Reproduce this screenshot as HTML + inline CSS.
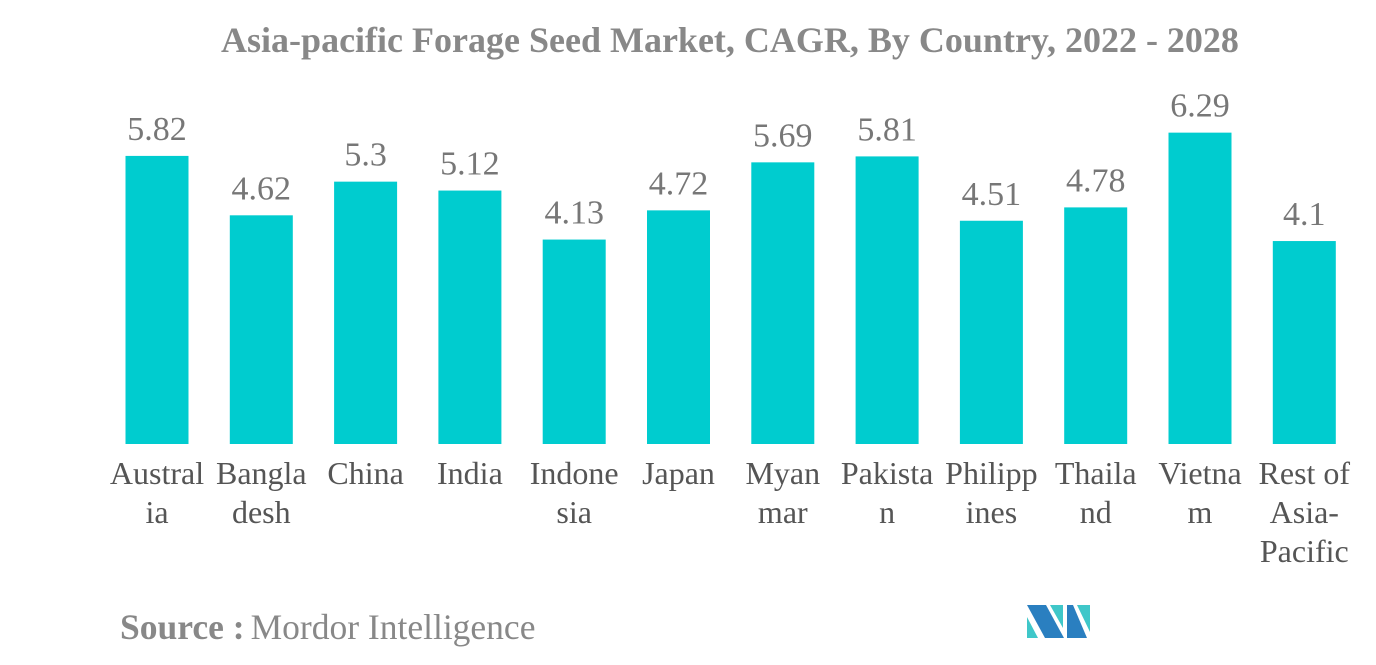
<!DOCTYPE html>
<html><head><meta charset="utf-8">
<style>
html,body{margin:0;padding:0;background:#fff;}
body{width:1376px;height:665px;overflow:hidden;position:relative;font-family:"Liberation Serif",serif;}
svg{position:absolute;left:0;top:0;}
</style></head>
<body>
<svg width="1376" height="665">
<text x="730" y="52" text-anchor="middle" font-size="36" font-weight="bold" fill="#888">Asia-pacific Forage Seed Market, CAGR, By Country, 2022 - 2028</text>
<g id="bars"></g>
<text x="120" y="639" font-size="35.5"><tspan font-weight="bold" fill="#888">Source :</tspan><tspan fill="#888" dx="6">Mordor Intelligence</tspan></text>
<g>
<polygon points="1027,605 1046,605 1064,638 1045,638" fill="#2a7fc0"/>
<polygon points="1027,617 1038,638 1027,638" fill="#3fc7c9"/>
<polygon points="1050,605 1063,605 1063,628" fill="#3fc7c9"/>
<polygon points="1067,605 1067,638 1087,638 1073,605" fill="#2a7fc0"/>
<polygon points="1077,605 1090,605 1090,632" fill="#3fc7c9"/>
</g>
</svg>
<script>
const categories=[["Austral","ia"],["Bangla","desh"],["China"],["India"],["Indone","sia"],["Japan"],["Myan","mar"],["Pakista","n"],["Philipp","ines"],["Thaila","nd"],["Vietna","m"],["Rest of","Asia-","Pacific"]];
const values=[5.82,4.62,5.3,5.12,4.13,4.72,5.69,5.81,4.51,4.78,6.29,4.1];
const valueLabels=["5.82","4.62","5.3","5.12","4.13","4.72","5.69","5.81","4.51","4.78","6.29","4.1"];
const NS="http://www.w3.org/2000/svg";
const g=document.getElementById('bars');
const y=v=>444-v*49.5;
const x=i=>157+i*104.3;
const bw=63;
values.forEach((v,i)=>{
  const r=document.createElementNS(NS,'rect');
  r.setAttribute('x',x(i)-bw/2);r.setAttribute('y',y(v));
  r.setAttribute('width',bw);r.setAttribute('height',444-y(v));
  r.setAttribute('fill','#00cccf');
  
  
  g.appendChild(r);
  const t=document.createElementNS(NS,'text');
  t.setAttribute('x',x(i));t.setAttribute('y',y(v)-16);
  t.setAttribute('text-anchor','middle');t.setAttribute('font-size','34');t.setAttribute('fill','#777');
  t.textContent=valueLabels[i];
  
  
  g.appendChild(t);
  categories[i].forEach((line,j)=>{
    const c=document.createElementNS(NS,'text');
    c.setAttribute('x',x(i));c.setAttribute('y',484+j*39);
    c.setAttribute('text-anchor','middle');c.setAttribute('font-size','32');c.setAttribute('fill','#555');
    c.textContent=line;
    
    
    g.appendChild(c);
  });
});
</script>
</body></html>
